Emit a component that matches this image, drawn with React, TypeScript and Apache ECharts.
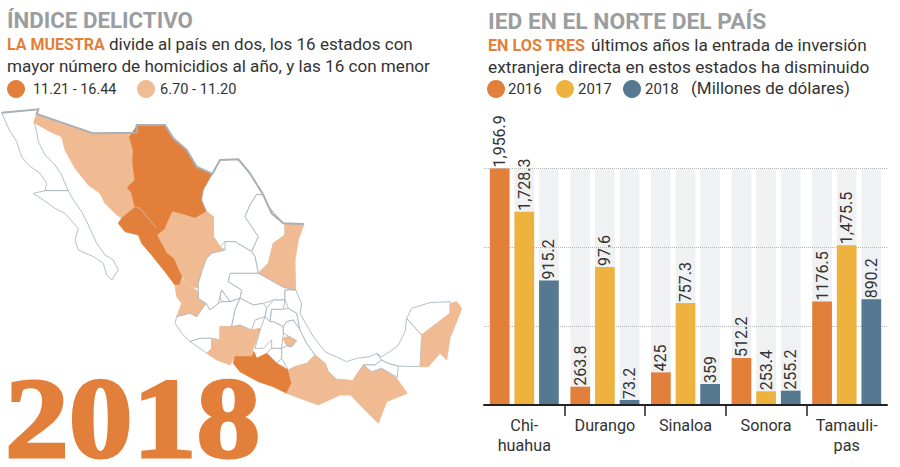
import React, { useEffect, useRef } from "react";
import * as echarts from "echarts";

// ---- Bar chart data -------------------------------------------------------
const categories = ["Chi-\nhuahua", "Durango", "Sinaloa", "Sonora", "Tamauli-\npas"];
const seriesNames = ["2016", "2017", "2018"];
// The printed figures. The picture's bars are not drawn to these figures, so they are kept apart.
const printed2016 = ["1,956.9", "263.8", "425", "512.2", "1176.5"];
const printed2017 = ["1,728.3", "97.6", "757.3", "253.4", "1,475.5"];
const printed2018 = ["915.2", "73.2", "359", "255.2", "890.2"];
// Bar lengths as measured in the picture, on the chart's own axis.
const bars2016 = [1950, 151, 269, 387, 854];
const bars2017 = [1593, 1137, 840, 113, 1318];
const bars2018 = [1027, 41, 173, 118, 871];
const backdrop = [1950, 1950, 1950, 1950, 1950];
const axisTop = 1950;
const axisStep = 650;

// ---- Map data (outlines, [x, y] y down) -----------------------------------
const darkStates = ["Chihuahua", "Sinaloa", "Guerrero"];
const lightStates = ["Sonora", "Durango", "Tamaulipas", "Nayarit", "Michoacan", "Tlaxcala", "Oaxaca", "Chiapas", "QuintanaRoo"];
const outlines: Record<string, number[][]> = {
  BajaCalifornia: [[5,38],[115,28],[102,68],[108,85],[115,125],[135,165],[165,195],[185,225],[200,262],[205,272],[135,272],[140,250],[120,220],[85,195],[65,170],[50,125],[28,90]],
  BajaSur: [[100,280],[135,272],[205,272],[220,300],[245,335],[265,375],[290,430],[315,465],[340,480],[355,510],[335,540],[320,525],[310,490],[280,470],[235,450],[225,420],[235,385],[195,340],[165,325],[130,300]],
  Sonora: [[110,42],[102,68],[150,95],[185,110],[195,150],[225,205],[265,255],[300,280],[315,310],[345,340],[365,355],[405,322],[395,280],[382,262],[405,240],[398,190],[400,150],[388,112],[410,98],[280,100]],
  Chihuahua: [[388,112],[410,78],[495,75],[520,115],[560,150],[590,200],[637,222],[610,270],[605,300],[620,335],[585,355],[555,345],[518,335],[495,385],[470,385],[445,355],[420,325],[405,322],[395,280],[382,262],[405,240],[398,190],[400,150]],
  Coahuila: [[637,222],[660,180],[715,178],[750,220],[790,285],[770,283],[750,315],[735,350],[775,410],[755,455],[705,425],[675,425],[660,440],[640,410],[640,350],[620,335],[605,300],[610,270]],
  NuevoLeon: [[770,283],[790,285],[805,320],[855,375],[855,405],[820,430],[805,490],[775,520],[765,470],[755,455],[775,410],[735,350],[750,315]],
  Tamaulipas: [[805,320],[850,370],[912,372],[895,420],[885,480],[887,570],[850,562],[775,520],[805,490],[820,430],[855,405],[855,375]],
  Durango: [[518,335],[585,355],[620,335],[640,350],[640,410],[660,440],[675,450],[635,460],[620,475],[605,515],[600,565],[575,560],[545,530],[520,475],[500,460],[470,405],[495,385]],
  Sinaloa: [[405,322],[420,325],[445,355],[470,385],[495,385],[470,405],[500,460],[520,475],[545,530],[540,555],[525,555],[495,515],[455,465],[425,430],[415,405],[375,395],[355,370],[365,355]],
  Nayarit: [[525,555],[540,555],[545,535],[575,560],[595,575],[595,595],[618,610],[590,650],[570,640],[530,650],[545,610],[530,590]],
  Zacatecas: [[675,425],[705,425],[755,455],[765,470],[775,520],[690,520],[685,545],[725,570],[720,595],[690,605],[665,570],[655,610],[630,630],[618,610],[595,595],[595,550],[605,515],[620,475],[635,460],[675,450]],
  SanLuis: [[690,520],[775,520],[850,562],[887,570],[855,570],[855,600],[820,600],[790,610],[760,615],[720,595],[725,570],[685,545]],
  Aguascalientes: [[665,570],[690,605],[665,605],[660,590]],
  Jalisco: [[530,650],[570,640],[590,650],[618,610],[630,630],[655,610],[665,605],[690,605],[720,595],[705,630],[695,680],[660,680],[660,720],[635,715],[600,715],[570,725],[545,700],[525,670]],
  Colima: [[570,725],[600,715],[635,715],[635,745],[620,760],[600,745]],
  Michoacan: [[660,680],[695,680],[720,675],[750,690],[782,685],[760,745],[755,770],[705,770],[690,795],[650,780],[620,760],[635,745],[635,715],[660,720]],
  Guanajuato: [[720,595],[760,615],[790,610],[800,625],[795,650],[765,660],[755,690],[720,675],[695,680],[705,630]],
  Queretaro: [[800,625],[820,600],[855,600],[850,628],[815,628],[810,665],[795,650]],
  Hidalgo: [[815,628],[850,628],[865,625],[890,640],[900,690],[880,660],[860,665],[850,680],[820,665],[810,665]],
  Mexico: [[795,650],[810,665],[820,665],[850,680],[850,700],[845,745],[815,745],[815,720],[790,745],[765,745],[782,685]],
  Morelos: [[815,745],[845,745],[845,775],[830,790],[800,760]],
  Guerrero: [[700,790],[705,770],[755,770],[762,755],[770,775],[800,760],[830,790],[865,810],[875,850],[860,880],[820,860],[775,845],[720,815]],
  Tlaxcala: [[848,715],[865,708],[890,722],[875,740],[860,738]],
  Puebla: [[860,665],[880,660],[900,690],[920,730],[945,765],[920,790],[885,800],[865,810],[845,775],[845,745],[860,738],[875,740],[890,722],[865,708],[850,700],[850,680]],
  Veracruz: [[887,570],[905,610],[900,640],[940,710],[975,755],[1040,785],[1070,775],[1110,770],[1130,760],[1145,780],[1125,795],[1090,795],[1058,842],[1010,838],[985,815],[975,790],[945,765],[920,730],[900,690],[890,640],[865,625],[855,600],[855,570]],
  Oaxaca: [[865,810],[885,800],[920,790],[945,765],[975,790],[985,815],[1010,838],[1058,842],[1052,885],[1020,885],[955,915],[900,895],[860,880],[875,850]],
  Chiapas: [[1058,842],[1090,795],[1115,815],[1145,805],[1190,835],[1222,880],[1160,905],[1135,970],[1080,915],[1052,885]],
  Tabasco: [[1090,795],[1125,795],[1145,780],[1165,790],[1195,798],[1192,832],[1145,805],[1115,815]],
  Campeche: [[1195,798],[1260,800],[1265,705],[1220,655],[1215,695],[1195,735],[1170,755],[1145,770],[1130,760],[1145,780],[1165,790]],
  Yucatan: [[1220,655],[1235,625],[1290,608],[1350,605],[1350,640],[1265,705]],
  QuintanaRoo: [[1265,705],[1350,640],[1352,610],[1370,605],[1385,625],[1370,665],[1350,715],[1340,780],[1320,760],[1285,800],[1262,800]],
};
const northBorder = [[5,38],[115,28],[110,42],[280,100],[410,98],[410,75],[495,75],[520,115],[560,150],[590,200],[637,222],[660,180],[715,178],[750,220],[790,285],[815,340],[850,370],[912,372]];
const sinaloaChihuahuaLine = [[405,322],[420,325],[445,355],[470,385]];

const ORANGE = "#e27f3a";
const PEACH = "#f0bb92";
const YELLOW = "#eeb23e";
const TEAL = "#567890";
const GREY = "#9b9d9f";
const INK = "#333333";
const SANS = "Roboto";

function mapGeoJson() {
  return {
    type: "FeatureCollection",
    features: Object.keys(outlines).map((name) => {
      const ring = outlines[name].map(([x, y]) => [x, -y]);
      ring.push(ring[0]);
      return { type: "Feature", properties: { name }, geometry: { type: "Polygon", coordinates: [ring] } };
    }),
  };
}

function text(x: number, y: number, s: string, size: number, color = INK, weight: any = 400, family = SANS) {
  return { type: "text", x, y, silent: true, style: { text: s, fontSize: size, fill: color, fontWeight: weight, fontFamily: family, textVerticalAlign: "middle" } };
}
function dot(cx: number, cy: number, color: string) {
  return { type: "circle", silent: true, shape: { cx, cy, r: 9 }, style: { fill: color } };
}

function barSeries(name: string, values: number[], printed: string[], color: string) {
  return {
    name, type: "bar", data: values, xAxisIndex: 0, yAxisIndex: 0, barWidth: 19.7, barGap: "25%", z: 3,
    itemStyle: { color },
    label: {
      show: true, position: "top", rotate: 90, align: "left", verticalAlign: "middle", distance: 1,
      fontFamily: SANS, fontSize: 16, color: INK,
      formatter: (p: any) => printed[p.dataIndex],
    },
  };
}
function backSeries(name: string) {
  return {
    name: name + " fondo", type: "bar", data: backdrop, xAxisIndex: 1, yAxisIndex: 0, barWidth: 19.7, barGap: "25%", z: 1,
    silent: true, itemStyle: { color: "#f0f1f3" },
  };
}

export default function App() {
  const ref = useRef<HTMLDivElement>(null);
  useEffect(() => {
    document.body.style.margin = "0";
    echarts.registerMap("mx", mapGeoJson() as any);
    const chart = echarts.init(ref.current!, undefined, { renderer: "svg" });
    const regions = [
      ...darkStates.map((name) => ({ name, itemStyle: { areaColor: ORANGE, borderColor: ORANGE } })),
      ...lightStates.map((name) => ({ name, itemStyle: { areaColor: PEACH, borderColor: PEACH } })),
    ];
    chart.setOption({
      animation: false,
      backgroundColor: "#ffffff",
      geo: {
        map: "mx", roam: false, silent: true, aspectScale: 1,
        left: 1.67, top: 109.33, width: 460, height: 314, z: 1,
        label: { show: false },
        itemStyle: { areaColor: "#ffffff", borderColor: "#a2aeb9", borderWidth: 0.8 },
        regions,
      },
      grid: { left: 484, right: 13, top: 168.5, bottom: 62 },
      xAxis: [
        {
          type: "category", data: categories, z: 4, position: "bottom",
          axisLine: { show: true, lineStyle: { color: "#222222", width: 2 } },
          axisTick: { show: false },
          axisLabel: { margin: 10, fontFamily: SANS, fontSize: 16.2, lineHeight: 20, color: INK, interval: 0 },
        },
        { type: "category", data: categories, show: false },
        {
          type: "value", min: 0, max: 5, z: 4, position: "bottom",
          axisLine: { show: false }, axisLabel: { show: false }, splitLine: { show: false },
          axisTick: { show: true, customValues: [1, 2, 3, 4], length: 11, lineStyle: { color: "#222222", width: 1.5 } },
        },
      ],
      yAxis: {
        type: "value", min: 0, max: axisTop, interval: axisStep, z: 2,
        axisLine: { show: false }, axisTick: { show: false }, axisLabel: { show: false },
        splitLine: { show: true, lineStyle: { color: "#b5b5b5", type: "dotted", width: 1 } },
      },
      series: [
        backSeries(seriesNames[0]), backSeries(seriesNames[1]), backSeries(seriesNames[2]),
        barSeries(seriesNames[0], bars2016, printed2016, ORANGE),
        barSeries(seriesNames[1], bars2017, printed2017, YELLOW),
        barSeries(seriesNames[2], bars2018, printed2018, TEAL),
        {
          type: "lines", coordinateSystem: "geo", polyline: true, silent: true, z: 5,
          data: [{ coords: northBorder.map(([x, y]) => [x, -y]) }],
          lineStyle: { color: "#a9afb6", width: 2, opacity: 1 },
        },
        {
          type: "lines", coordinateSystem: "geo", polyline: true, silent: true, z: 5,
          data: [{ coords: sinaloaChihuahuaLine.map(([x, y]) => [x, -y]) }],
          lineStyle: { color: "#c3b6ab", width: 1, opacity: 1 },
        },
      ],
      graphic: [
        text(7, 20, "ÍNDICE DELICTIVO", 22.3, GREY, 700),
        text(7, 44, "LA MUESTRA", 16, ORANGE, 700),
        text(109, 44, "divide al país en dos, los 16 estados con", 17),
        text(7, 66, "mayor número de homicidios al año, y las 16 con menor", 17.1),
        dot(16, 89, ORANGE),
        text(33, 89, "11.21 - 16.44", 14.4),
        dot(146, 89, PEACH),
        text(160, 89, "6.70 - 11.20", 14.6),
        text(488, 21, "IED EN EL NORTE DEL PAÍS", 22.8, GREY, 700),
        text(488, 45, "EN LOS TRES", 16.2, ORANGE, 700),
        text(591, 45, "últimos años la entrada de inversión", 17.2),
        text(488, 67, "extranjera directa en estos estados ha disminuido", 17.3),
        dot(496, 89, ORANGE),
        text(508, 89, "2016", 15),
        dot(565, 89, YELLOW),
        text(578, 89, "2017", 15),
        dot(632, 89, TEAL),
        text(645, 89, "2018", 15),
        text(691, 88, "(Millones de dólares)", 17),
        {
          type: "text", x: 5, y: 418, scaleX: 1.12, silent: true,
          style: {
            text: "2018", fontSize: 114, lineHeight: 88, fontWeight: 700, fontFamily: "'Liberation Serif'",
            fill: ORANGE, stroke: ORANGE, lineWidth: 3, textVerticalAlign: "middle",
          },
        },
      ],
    });
    return () => chart.dispose();
  }, []);
  return <div ref={ref} style={{ width: 900, height: 467 }} />;
}
